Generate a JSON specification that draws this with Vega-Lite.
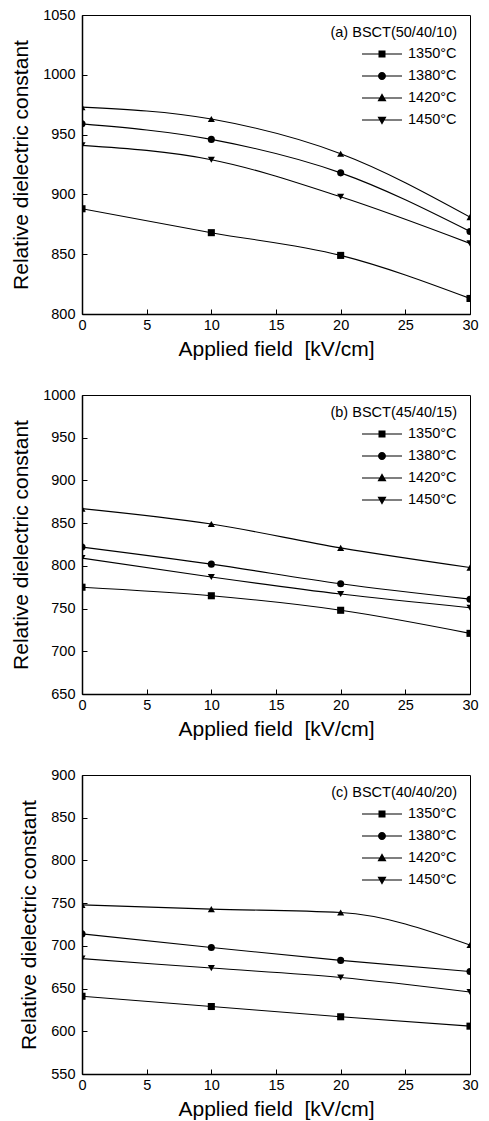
{
  "$schema": "https://vega.github.io/schema/vega-lite/v6.json",
  "padding": {"left": 10, "top": 6, "right": 5, "bottom": 0},
  "data": {"values": [
    {"panel": "a", "field": 0, "eps": 888, "temp": "1350°C"},
    {"panel": "a", "field": 10, "eps": 868, "temp": "1350°C"},
    {"panel": "a", "field": 20, "eps": 849, "temp": "1350°C"},
    {"panel": "a", "field": 30, "eps": 813, "temp": "1350°C"},
    {"panel": "a", "field": 0, "eps": 959, "temp": "1380°C"},
    {"panel": "a", "field": 10, "eps": 946, "temp": "1380°C"},
    {"panel": "a", "field": 20, "eps": 918, "temp": "1380°C"},
    {"panel": "a", "field": 30, "eps": 869, "temp": "1380°C"},
    {"panel": "a", "field": 0, "eps": 973, "temp": "1420°C"},
    {"panel": "a", "field": 10, "eps": 963, "temp": "1420°C"},
    {"panel": "a", "field": 20, "eps": 934, "temp": "1420°C"},
    {"panel": "a", "field": 30, "eps": 881, "temp": "1420°C"},
    {"panel": "a", "field": 0, "eps": 941, "temp": "1450°C"},
    {"panel": "a", "field": 10, "eps": 929, "temp": "1450°C"},
    {"panel": "a", "field": 20, "eps": 898, "temp": "1450°C"},
    {"panel": "a", "field": 30, "eps": 859, "temp": "1450°C"},
    {"panel": "b", "field": 0, "eps": 775, "temp": "1350°C"},
    {"panel": "b", "field": 10, "eps": 765, "temp": "1350°C"},
    {"panel": "b", "field": 20, "eps": 748, "temp": "1350°C"},
    {"panel": "b", "field": 30, "eps": 721, "temp": "1350°C"},
    {"panel": "b", "field": 0, "eps": 822, "temp": "1380°C"},
    {"panel": "b", "field": 10, "eps": 802, "temp": "1380°C"},
    {"panel": "b", "field": 20, "eps": 779, "temp": "1380°C"},
    {"panel": "b", "field": 30, "eps": 761, "temp": "1380°C"},
    {"panel": "b", "field": 0, "eps": 867, "temp": "1420°C"},
    {"panel": "b", "field": 10, "eps": 849, "temp": "1420°C"},
    {"panel": "b", "field": 20, "eps": 821, "temp": "1420°C"},
    {"panel": "b", "field": 30, "eps": 798, "temp": "1420°C"},
    {"panel": "b", "field": 0, "eps": 809, "temp": "1450°C"},
    {"panel": "b", "field": 10, "eps": 787, "temp": "1450°C"},
    {"panel": "b", "field": 20, "eps": 767, "temp": "1450°C"},
    {"panel": "b", "field": 30, "eps": 751, "temp": "1450°C"},
    {"panel": "c", "field": 0, "eps": 641, "temp": "1350°C"},
    {"panel": "c", "field": 10, "eps": 629, "temp": "1350°C"},
    {"panel": "c", "field": 20, "eps": 617, "temp": "1350°C"},
    {"panel": "c", "field": 30, "eps": 606, "temp": "1350°C"},
    {"panel": "c", "field": 0, "eps": 714, "temp": "1380°C"},
    {"panel": "c", "field": 10, "eps": 698, "temp": "1380°C"},
    {"panel": "c", "field": 20, "eps": 683, "temp": "1380°C"},
    {"panel": "c", "field": 30, "eps": 670, "temp": "1380°C"},
    {"panel": "c", "field": 0, "eps": 748, "temp": "1420°C"},
    {"panel": "c", "field": 10, "eps": 743, "temp": "1420°C"},
    {"panel": "c", "field": 20, "eps": 739, "temp": "1420°C"},
    {"panel": "c", "field": 30, "eps": 701, "temp": "1420°C"},
    {"panel": "c", "field": 0, "eps": 685, "temp": "1450°C"},
    {"panel": "c", "field": 10, "eps": 674, "temp": "1450°C"},
    {"panel": "c", "field": 20, "eps": 663, "temp": "1450°C"},
    {"panel": "c", "field": 30, "eps": 646, "temp": "1450°C"}
  ]},
  "spacing": 81,
  "bounds": "flush",
  "vconcat": [
    {
      "width": 388, "height": 299,
      "transform": [{"filter": "datum.panel === 'a'"}],
      "resolve": {"scale": {"shape": "independent"}, "legend": {"shape": "independent"}},
      "layer": [
        {
          "mark": {"type": "line", "interpolate": "monotone", "color": "black", "strokeWidth": 1.1, "clip": true},
          "encoding": {
            "x": {"field": "field", "type": "quantitative", "scale": {"domain": [0, 30], "nice": false}, "axis": {"title": "Applied field \u00a0[kV/cm]", "values": [0, 2.5, 5, 7.5, 10, 12.5, 15, 17.5, 20, 22.5, 25, 27.5, 30], "labelExpr": "datum.value % 5 === 0 ? datum.label : ''", "tickSize": {"condition": {"test": "datum.value % 5 === 0", "value": -5}, "value": -3}, "labelPadding": 9, "titlePadding": 7}},
            "y": {"field": "eps", "type": "quantitative", "scale": {"domain": [800, 1050], "nice": false, "zero": false}, "axis": {"title": "Relative dielectric constant", "format": "d", "values": [800, 825, 850, 875, 900, 925, 950, 975, 1000, 1025, 1050], "labelExpr": "datum.value % 50 === 0 ? datum.label : ''", "tickSize": {"condition": {"test": "datum.value % 50 === 0", "value": -5}, "value": -3}, "labelPadding": 12, "titlePadding": 11}},
            "detail": {"field": "temp"}
          }
        },
        {
          "mark": {"type": "point", "filled": true, "color": "black", "size": 50, "opacity": 1, "clip": true},
          "encoding": {
            "x": {"field": "field", "type": "quantitative"},
            "y": {"field": "eps", "type": "quantitative"},
            "shape": {"field": "temp", "type": "nominal", "scale": {"domain": ["1350°C", "1380°C", "1420°C", "1450°C"], "range": ["square", "circle", "triangle-up", "triangle-down"]}, "legend": null}
          }
        },
        {
          "mark": {"type": "point", "filled": true, "color": "black", "opacity": 0},
          "encoding": {
            "x": {"field": "field", "type": "quantitative"},
            "y": {"field": "eps", "type": "quantitative"},
            "shape": {"field": "temp", "type": "nominal", "scale": {"domain": ["1350°C", "1380°C", "1420°C", "1450°C"], "range": ["M2.667,-0.055L6.476,-0.055L6.476,0.055L2.667,0.055ZM4.238,-0.333L4.905,-0.333L4.905,0.333L4.238,0.333Z", "M2.667,-0.055L6.476,-0.055L6.476,0.055L2.667,0.055ZM4.951,0A0.38,0.38,0,1,1,4.191,0A0.38,0.38,0,1,1,4.951,0Z", "M2.667,-0.055L6.476,-0.055L6.476,0.055L2.667,0.055ZM4.571,-0.45L5,0.3L4.142,0.3Z", "M2.667,-0.055L6.476,-0.055L6.476,0.055L2.667,0.055ZM4.571,0.45L4.142,-0.3L5,-0.3Z"]},
              "legend": {"title": "(a) BSCT(50/40/10)", "orient": "none", "legendX": 241, "legendY": 11, "symbolOpacity": 1, "symbolStrokeColor": "black", "symbolFillColor": "black",
                "encode": {"symbols": {"stroke": {"value": "black"}, "strokeOpacity": {"value": 1}, "fillOpacity": {"value": 1}, "strokeWidth": {"value": 1}, "opacity": {"value": 1}, "fill": {"value": "black"}}}}}
          }
        }
      ]
    },
    {
      "width": 388, "height": 299,
      "transform": [{"filter": "datum.panel === 'b'"}],
      "resolve": {"scale": {"shape": "independent"}, "legend": {"shape": "independent"}},
      "layer": [
        {
          "mark": {"type": "line", "interpolate": "monotone", "color": "black", "strokeWidth": 1.1, "clip": true},
          "encoding": {
            "x": {"field": "field", "type": "quantitative", "scale": {"domain": [0, 30], "nice": false}, "axis": {"title": "Applied field \u00a0[kV/cm]", "values": [0, 2.5, 5, 7.5, 10, 12.5, 15, 17.5, 20, 22.5, 25, 27.5, 30], "labelExpr": "datum.value % 5 === 0 ? datum.label : ''", "tickSize": {"condition": {"test": "datum.value % 5 === 0", "value": -5}, "value": -3}, "labelPadding": 9, "titlePadding": 7}},
            "y": {"field": "eps", "type": "quantitative", "scale": {"domain": [650, 1000], "nice": false, "zero": false}, "axis": {"title": "Relative dielectric constant", "format": "d", "values": [650, 675, 700, 725, 750, 775, 800, 825, 850, 875, 900, 925, 950, 975, 1000], "labelExpr": "datum.value % 50 === 0 ? datum.label : ''", "tickSize": {"condition": {"test": "datum.value % 50 === 0", "value": -5}, "value": -3}, "labelPadding": 12, "titlePadding": 11}},
            "detail": {"field": "temp"}
          }
        },
        {
          "mark": {"type": "point", "filled": true, "color": "black", "size": 50, "opacity": 1, "clip": true},
          "encoding": {
            "x": {"field": "field", "type": "quantitative"},
            "y": {"field": "eps", "type": "quantitative"},
            "shape": {"field": "temp", "type": "nominal", "scale": {"domain": ["1350°C", "1380°C", "1420°C", "1450°C"], "range": ["square", "circle", "triangle-up", "triangle-down"]}, "legend": null}
          }
        },
        {
          "mark": {"type": "point", "filled": true, "color": "black", "opacity": 0},
          "encoding": {
            "x": {"field": "field", "type": "quantitative"},
            "y": {"field": "eps", "type": "quantitative"},
            "shape": {"field": "temp", "type": "nominal", "scale": {"domain": ["1350°C", "1380°C", "1420°C", "1450°C"], "range": ["M2.667,-0.055L6.476,-0.055L6.476,0.055L2.667,0.055ZM4.238,-0.333L4.905,-0.333L4.905,0.333L4.238,0.333Z", "M2.667,-0.055L6.476,-0.055L6.476,0.055L2.667,0.055ZM4.951,0A0.38,0.38,0,1,1,4.191,0A0.38,0.38,0,1,1,4.951,0Z", "M2.667,-0.055L6.476,-0.055L6.476,0.055L2.667,0.055ZM4.571,-0.45L5,0.3L4.142,0.3Z", "M2.667,-0.055L6.476,-0.055L6.476,0.055L2.667,0.055ZM4.571,0.45L4.142,-0.3L5,-0.3Z"]},
              "legend": {"title": "(b) BSCT(45/40/15)", "orient": "none", "legendX": 241, "legendY": 11, "symbolOpacity": 1, "symbolStrokeColor": "black", "symbolFillColor": "black",
                "encode": {"symbols": {"stroke": {"value": "black"}, "strokeOpacity": {"value": 1}, "fillOpacity": {"value": 1}, "strokeWidth": {"value": 1}, "opacity": {"value": 1}, "fill": {"value": "black"}}}}}
          }
        }
      ]
    },
    {
      "width": 388, "height": 299,
      "transform": [{"filter": "datum.panel === 'c'"}],
      "resolve": {"scale": {"shape": "independent"}, "legend": {"shape": "independent"}},
      "layer": [
        {
          "mark": {"type": "line", "interpolate": "monotone", "color": "black", "strokeWidth": 1.1, "clip": true},
          "encoding": {
            "x": {"field": "field", "type": "quantitative", "scale": {"domain": [0, 30], "nice": false}, "axis": {"title": "Applied field \u00a0[kV/cm]", "values": [0, 2.5, 5, 7.5, 10, 12.5, 15, 17.5, 20, 22.5, 25, 27.5, 30], "labelExpr": "datum.value % 5 === 0 ? datum.label : ''", "tickSize": {"condition": {"test": "datum.value % 5 === 0", "value": -5}, "value": -3}, "labelPadding": 9, "titlePadding": 7}},
            "y": {"field": "eps", "type": "quantitative", "scale": {"domain": [550, 900], "nice": false, "zero": false}, "axis": {"title": "Relative dielectric constant", "format": "d", "values": [550, 575, 600, 625, 650, 675, 700, 725, 750, 775, 800, 825, 850, 875, 900], "labelExpr": "datum.value % 50 === 0 ? datum.label : ''", "tickSize": {"condition": {"test": "datum.value % 50 === 0", "value": -5}, "value": -3}, "labelPadding": 12, "titlePadding": 11}},
            "detail": {"field": "temp"}
          }
        },
        {
          "mark": {"type": "point", "filled": true, "color": "black", "size": 50, "opacity": 1, "clip": true},
          "encoding": {
            "x": {"field": "field", "type": "quantitative"},
            "y": {"field": "eps", "type": "quantitative"},
            "shape": {"field": "temp", "type": "nominal", "scale": {"domain": ["1350°C", "1380°C", "1420°C", "1450°C"], "range": ["square", "circle", "triangle-up", "triangle-down"]}, "legend": null}
          }
        },
        {
          "mark": {"type": "point", "filled": true, "color": "black", "opacity": 0},
          "encoding": {
            "x": {"field": "field", "type": "quantitative"},
            "y": {"field": "eps", "type": "quantitative"},
            "shape": {"field": "temp", "type": "nominal", "scale": {"domain": ["1350°C", "1380°C", "1420°C", "1450°C"], "range": ["M2.667,-0.055L6.476,-0.055L6.476,0.055L2.667,0.055ZM4.238,-0.333L4.905,-0.333L4.905,0.333L4.238,0.333Z", "M2.667,-0.055L6.476,-0.055L6.476,0.055L2.667,0.055ZM4.951,0A0.38,0.38,0,1,1,4.191,0A0.38,0.38,0,1,1,4.951,0Z", "M2.667,-0.055L6.476,-0.055L6.476,0.055L2.667,0.055ZM4.571,-0.45L5,0.3L4.142,0.3Z", "M2.667,-0.055L6.476,-0.055L6.476,0.055L2.667,0.055ZM4.571,0.45L4.142,-0.3L5,-0.3Z"]},
              "legend": {"title": "(c) BSCT(40/40/20)", "orient": "none", "legendX": 241, "legendY": 11, "symbolOpacity": 1, "symbolStrokeColor": "black", "symbolFillColor": "black",
                "encode": {"symbols": {"stroke": {"value": "black"}, "strokeOpacity": {"value": 1}, "fillOpacity": {"value": 1}, "strokeWidth": {"value": 1}, "opacity": {"value": 1}, "fill": {"value": "black"}}}}}
          }
        }
      ]
    }
  ],
  "resolve": {"scale": {"shape": "independent"}, "legend": {"shape": "independent"}},
  "config": {
    "font": "Liberation Sans",
    "background": "white",
    "view": {"stroke": "black", "strokeWidth": 1},
    "axis": {"grid": false, "domainColor": "black", "domainWidth": 1.5, "tickColor": "black", "tickWidth": 1, "labelColor": "black", "titleColor": "black", "labelFontSize": 14.5, "titleFontSize": 21, "titleFontWeight": "normal", "labelFlush": false, "labelOverlap": false, "labelFont": "Liberation Sans", "titleFont": "Liberation Sans"},
    "legend": {"padding": 0, "rowPadding": 4, "titlePadding": 2.5, "titleFontSize": 14.5, "titleFontWeight": "normal", "titleColor": "black", "titleFont": "Liberation Sans", "titleAnchor": "end", "titleLimit": 300, "labelFontSize": 14.5, "labelColor": "black", "labelFont": "Liberation Sans", "symbolSize": 441, "symbolStrokeWidth": 1, "labelOffset": 63, "symbolOffset": 0}
  }
}
